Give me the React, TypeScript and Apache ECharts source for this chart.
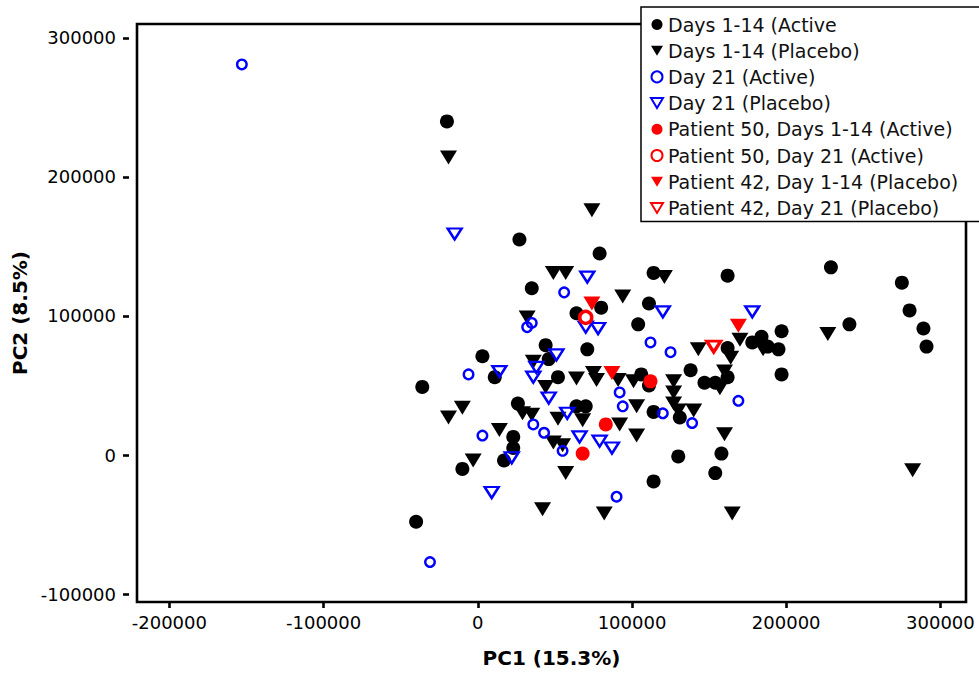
import React, { useEffect, useRef } from "react";
import * as echarts from "echarts";

type Pt = [number, number];

// PCA scores: [PC1, PC2]
const activeDays1to14: Pt[] = [
  [-20000, 240000], [27000, 155000], [79000, 145000], [35000, 120000],
  [114000, 131000], [162000, 129000], [229000, 135000], [275000, 124000],
  [280000, 104000], [111000, 109000], [64000, 102000], [80000, 106000],
  [104000, 94000], [241000, 94000], [289000, 91000], [197000, 89000],
  [178000, 81000], [184000, 85000], [188000, 78000], [195000, 76000],
  [291000, 78000], [162000, 77000], [44000, 79000], [71000, 76000],
  [3000, 71000], [46000, 69000], [11000, 56000], [52000, 56000],
  [106000, 58000], [111000, 50000], [-36000, 49000], [26000, 37000],
  [64000, 35000], [70000, 35000], [23000, 13000], [23000, 5000],
  [-10000, -10000], [17000, -4000], [138000, 61000], [162000, 56000],
  [147000, 52000], [154000, 52000], [197000, 58000], [114000, 31000],
  [131000, 27000], [158000, 1000], [130000, -1000], [154000, -13000],
  [114000, -19000], [-40000, -48000],
];

const placeboDays1to14: Pt[] = [
  [-19000, 214000], [74000, 176000], [49000, 131000], [57000, 131000],
  [121000, 128000], [94000, 114000], [32000, 99000], [36000, 67000],
  [64000, 55000], [75000, 59000], [77000, 54000], [91000, 54000],
  [44000, 49000], [-10000, 34000], [-19000, 27000], [29000, 30000],
  [35000, 29000], [52000, 26000], [68000, 25000], [103000, 35000],
  [103000, 14000], [92000, 22000], [14000, 18000], [-3000, -4000],
  [49000, 9000], [55000, 7000], [57000, -13000], [42000, -39000],
  [82000, -42000], [143000, 76000], [164000, 70000], [170000, 83000],
  [185000, 76000], [160000, 60000], [157000, 48000], [101000, 53000],
  [127000, 53000], [127000, 45000], [127000, 37000], [130000, 32000],
  [140000, 32000], [160000, 15000], [165000, -42000], [227000, 87000],
  [282000, -11000],
];

const activeDay21: Pt[] = [
  [-153000, 281000], [56000, 117000], [32000, 92000], [35000, 95000],
  [-6000, 58000], [36000, 22000], [43000, 16000], [3000, 14000],
  [55000, 3000], [90000, -30000], [-31000, -77000], [92000, 45000],
  [94000, 35000], [112000, 81000], [125000, 74000], [120000, 30000],
  [139000, 23000], [169000, 39000],
];

const placeboDay21: Pt[] = [
  [-15000, 159000], [71000, 128000], [51000, 72000], [14000, 60000],
  [38000, 63000], [36000, 56000], [46000, 41000], [58000, 30000],
  [66000, 13000], [79000, 10000], [87000, 5000], [22000, -2000],
  [9000, -27000], [70000, 92000], [78000, 91000], [120000, 103000],
  [178000, 103000],
];

const patient50Days1to14: Pt[] = [[112000, 53000], [83000, 22000], [68000, 1000]];
const patient50Day21: Pt[] = [[70000, 99000]];
const patient42Days1to14: Pt[] = [[74000, 109000], [87000, 59000], [169000, 93000]];
const patient42Day21: Pt[] = [[153000, 78000]];

const seriesNames = [
  "Days 1-14 (Active",
  "Days 1-14 (Placebo)",
  "Day 21 (Active)",
  "Day 21 (Placebo)",
  "Patient 50, Days 1-14 (Active)",
  "Patient 50, Day 21 (Active)",
  "Patient 42, Day 1-14 (Placebo)",
  "Patient 42, Day 21 (Placebo)",
];

const tickValues = [-200000, -100000, 0, 100000, 200000, 300000];
const yTickValues = [-100000, 0, 100000, 200000, 300000];

const BLUE = "#0000ff";
const RED = "#ff0000";
const BLACK = "#000000";

// downward-pointing triangle for legend icons
const DOWN_TRIANGLE = "path://M0,0L12,0L6,10Z";

export default function App() {
  const ref = useRef<HTMLDivElement>(null);

  useEffect(() => {
    if (!ref.current) return;
    const chart = echarts.init(ref.current, null, { renderer: "svg" });

    const labelFont = {
      fontFamily: "DejaVu Sans",
      fontSize: 18,
      color: BLACK,
      formatter: (v: number) => String(v),
    };

    const icons = ["circle", DOWN_TRIANGLE, "circle", DOWN_TRIANGLE, "circle", "circle", DOWN_TRIANGLE, DOWN_TRIANGLE];

    chart.setOption({
      animation: false,
      backgroundColor: "#ffffff",
      grid: {
        left: 137,
        right: 13,
        top: 24,
        bottom: 71,
        show: true,
        borderColor: BLACK,
        borderWidth: 2.6,
        backgroundColor: "transparent",
      },
      legend: {
        orient: "vertical",
        left: 641,
        top: 7,
        padding: [8, 60, 4, 9],
        itemWidth: 12,
        itemHeight: 11,
        itemGap: 7.2,
        backgroundColor: "#ffffff",
        borderColor: BLACK,
        borderWidth: 1.5,
        selectedMode: false,
        data: seriesNames.map((name, i) => ({ name, icon: icons[i] })),
        textStyle: {
          fontFamily: "DejaVu Sans",
          fontSize: 19,
          lineHeight: 19,
          color: "#111",
        },
      },
      xAxis: {
        type: "value",
        min: -221000,
        max: 316600,
        name: "PC1 (15.3%)",
        nameLocation: "middle",
        nameGap: 46,
        nameTextStyle: {
          fontFamily: "DejaVu Sans",
          fontWeight: "bold",
          fontSize: 20,
          color: BLACK,
        },
        axisLine: { show: false, onZero: false },
        splitLine: { show: false },
        axisTick: {
          show: true,
          length: 6,
          lineStyle: { color: BLACK, width: 2.6 },
          customValues: tickValues,
        },
        axisLabel: {
          ...labelFont,
          margin: 11,
          customValues: tickValues,
        },
      },
      yAxis: {
        type: "value",
        min: -105750,
        max: 310060,
        offset: 8,
        name: "PC2 (8.5%)",
        nameLocation: "middle",
        nameGap: 94,
        nameTextStyle: {
          fontFamily: "DejaVu Sans",
          fontWeight: "bold",
          fontSize: 20,
          color: BLACK,
        },
        axisLine: { show: false, onZero: false },
        splitLine: { show: false },
        axisTick: {
          show: true,
          length: 6,
          lineStyle: { color: BLACK, width: 2.6 },
          customValues: yTickValues,
        },
        axisLabel: {
          ...labelFont,
          margin: 13,
          customValues: yTickValues,
        },
      },
      series: [
        {
          name: seriesNames[0],
          type: "scatter",
          data: activeDays1to14,
          symbol: "circle",
          symbolSize: 14,
          itemStyle: { color: BLACK, opacity: 1 },
          z: 2,
        },
        {
          name: seriesNames[1],
          type: "scatter",
          data: placeboDays1to14,
          symbol: "triangle",
          symbolRotate: 180,
          symbolSize: [17, 14],
          itemStyle: { color: BLACK, opacity: 1 },
          z: 2,
        },
        {
          name: seriesNames[2],
          type: "scatter",
          data: activeDay21,
          symbol: "circle",
          symbolSize: 9.5,
          itemStyle: { color: "rgba(0,0,0,0)", borderColor: BLUE, borderWidth: 2.4, opacity: 1 },
          z: 3,
        },
        {
          name: seriesNames[3],
          type: "scatter",
          data: placeboDay21,
          symbol: "triangle",
          symbolRotate: 180,
          symbolSize: [14, 11],
          itemStyle: { color: "rgba(0,0,0,0)", borderColor: BLUE, borderWidth: 2.4, opacity: 1 },
          z: 3,
        },
        {
          name: seriesNames[4],
          type: "scatter",
          data: patient50Days1to14,
          symbol: "circle",
          symbolSize: 14,
          itemStyle: { color: RED, opacity: 1 },
          z: 4,
        },
        {
          name: seriesNames[5],
          type: "scatter",
          data: patient50Day21,
          symbol: "circle",
          symbolSize: 12,
          itemStyle: { color: "#ffffff", borderColor: RED, borderWidth: 3.5, opacity: 1 },
          z: 4,
        },
        {
          name: seriesNames[6],
          type: "scatter",
          data: patient42Days1to14,
          symbol: "triangle",
          symbolRotate: 180,
          symbolSize: [17, 14],
          itemStyle: { color: RED, opacity: 1 },
          z: 4,
        },
        {
          name: seriesNames[7],
          type: "scatter",
          data: patient42Day21,
          symbol: "triangle",
          symbolRotate: 180,
          symbolSize: [14, 11],
          itemStyle: { color: "#ffffff", borderColor: RED, borderWidth: 3.2, opacity: 1 },
          z: 4,
        },
      ],
    });

    return () => chart.dispose();
  }, []);

  return (
    <div
      ref={ref}
      style={{ position: "fixed", left: 0, top: 0, width: 979, height: 673 }}
    />
  );
}
